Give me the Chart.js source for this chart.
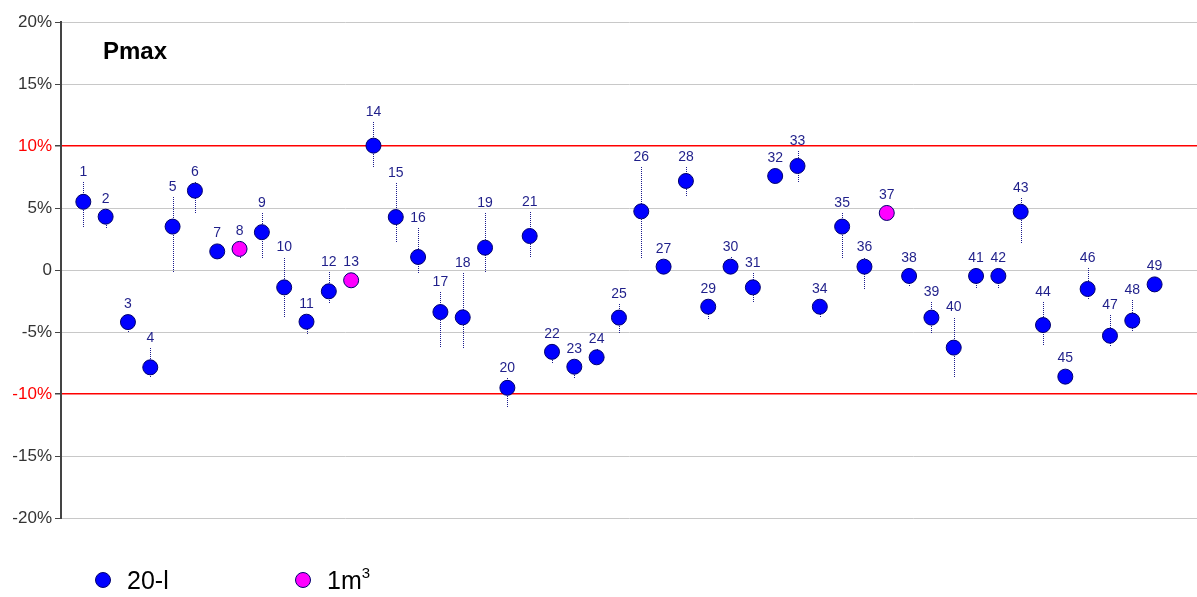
<!DOCTYPE html>
<html>
<head>
<meta charset="utf-8">
<script src="https://cdn.jsdelivr.net/npm/chart.js@4.4.1/dist/chart.umd.min.js"></script>
<style>
  html, body { margin: 0; padding: 0; background: #fff; }
  #wrap { position: relative; width: 1197px; height: 597px; }
  #legend { position: absolute; left: 0; top: 0; width: 1197px; height: 597px; pointer-events: none;
            font-family: "Liberation Sans", Arial, sans-serif; color: #000; }
  .item { position: absolute; top: 566px; font-size: 25px; line-height: 28px; white-space: nowrap; }
  .dot { position: absolute; width: 16px; height: 16px; border-radius: 50%; box-sizing: border-box;
         border: 1px solid #00006e; top: 6px; }
  .item span.t { position: absolute; top: 0; }
  sup { font-size: 15px; vertical-align: 0; position: relative; top: -11px; }
</style>
</head>
<body>
<div id="wrap">
  <canvas id="c" width="1197" height="597"></canvas>
  <div id="legend"></div>
</div>
<script>
// ---- data ----
const sampleLabels = ["1","2","3","4","5","6","7","8","9","10","11","12","13","14","15","16","17","18","19","20",
  "21","22","23","24","25","26","27","28","29","30","31","32","33","34","35","36","37","38","39","40",
  "41","42","43","44","45","46","47","48","49"];
const sampleIndex = [1,2,3,4,5,6,7,8,9,10,11,12,13,14,15,16,17,18,19,20,21,22,23,24,25,26,27,28,29,30,
  31,32,33,34,35,36,37,38,39,40,41,42,43,44,45,46,47,48,49];
const deviation = [5.5,4.3,-4.2,-7.85,3.5,6.4,1.5,1.7,3.05,-1.4,-4.17,-1.72,-0.83,10.03,4.27,1.05,-3.39,-3.82,1.8,-9.5,
  2.74,-6.6,-7.8,-7.04,-3.84,4.73,0.27,7.18,-2.96,0.27,-1.4,7.58,8.39,-2.96,3.5,0.27,4.6,-0.48,-3.84,-6.26,
  -0.48,-0.48,4.7,-4.44,-8.6,-1.53,-5.3,-4.08,-1.16];
const upperBound = [7.1,4.9,-3.6,-6.3,5.9,7.1,2.0,2.3,4.6,1.0,-3.6,-0.2,-0.3,11.96,7.04,3.36,-1.77,-0.27,4.57,-8.7,
  4.7,-6.0,-7.3,-6.4,-2.74,8.33,0.8,8.28,-2.4,1.02,-0.27,8.1,9.62,-2.4,4.57,1.0,5.1,0.05,-2.6,-3.84,
  0.05,0.05,5.78,-2.6,-8.1,0.19,-3.63,-2.42,-0.6];
const lowerBound = [3.47,3.4,-5.05,-8.6,-0.2,4.6,1.0,1.0,1.0,-3.8,-5.16,-2.7,-1.3,8.28,2.23,-0.27,-6.3,-6.4,-0.2,-11.07,
  1.02,-7.6,-8.73,-7.5,-5.05,0.94,-0.2,5.9,-3.98,-0.2,-2.63,7.1,7.04,-3.8,0.94,-1.53,4.1,-1.4,-5.16,-8.6,
  -1.48,-1.53,2.15,-6.05,-9.1,-2.37,-6.18,-4.92,-1.6];
const vessel = ["20-l","20-l","20-l","20-l","20-l","20-l","20-l","1m3","20-l","20-l","20-l","20-l","1m3","20-l","20-l",
  "20-l","20-l","20-l","20-l","20-l","20-l","20-l","20-l","20-l","20-l","20-l","20-l","20-l","20-l","20-l",
  "20-l","20-l","20-l","20-l","20-l","20-l","1m3","20-l","20-l","20-l","20-l","20-l","20-l","20-l","20-l",
  "20-l","20-l","20-l","20-l"];
const yTicks = [-20,-15,-10,-5,0,5,10,15,20];
const limitLines = [-10, 10];
const seriesNames = ["20-l", "1m3"];
const seriesLegendHtml = ["20-l", "1m<sup>3</sup>"];
const seriesColors = ["#0000ff", "#ff00ff"];

// ---- build datasets ----
const points = sampleIndex.map((x, i) => ({x: x, y: deviation[i], lo: lowerBound[i], hi: upperBound[i], label: sampleLabels[i], s: vessel[i]}));
const datasets = seriesNames.map((name, k) => ({
  label: name,
  data: points.filter(p => p.s === name),
  backgroundColor: seriesColors[k],
  borderColor: "#00006e",
  borderWidth: 1,
  pointRadius: 7.5,
  pointHoverRadius: 7.5,
  showLine: false
}));

const errorBars = {
  id: "errorBars",
  beforeDatasetsDraw(chart) {
    const ctx = chart.ctx, ys = chart.scales.y, xs = chart.scales.x;
    ctx.save();
    ctx.strokeStyle = "#1a1a8c";
    ctx.lineWidth = 1;
    ctx.setLineDash([1, 1]);
    points.forEach(p => {
      const px = Math.round(xs.getPixelForValue(p.x)) + 0.5;
      ctx.beginPath();
      ctx.moveTo(px, Math.round(ys.getPixelForValue(p.hi)));
      ctx.lineTo(px, Math.round(ys.getPixelForValue(p.lo)));
      ctx.stroke();
    });
    ctx.restore();
  }
};

const pointLabels = {
  id: "pointLabels",
  afterDatasetsDraw(chart) {
    const ctx = chart.ctx, ys = chart.scales.y, xs = chart.scales.x;
    ctx.save();
    ctx.fillStyle = "#1f1f8a";
    ctx.font = "14px 'Liberation Sans', Arial, sans-serif";
    ctx.textAlign = "center";
    ctx.textBaseline = "middle";
    points.forEach(p => {
      const px = xs.getPixelForValue(p.x);
      const py = Math.min(ys.getPixelForValue(p.hi) - 10, ys.getPixelForValue(p.y) - 18);
      ctx.fillText(p.label, px, py);
    });
    ctx.fillStyle = "#000";
    ctx.font = "bold 24px 'Liberation Sans', Arial, sans-serif";
    ctx.textAlign = "left";
    ctx.fillText("Pmax", 103, 52);
    ctx.restore();
  }
};

new Chart(document.getElementById("c"), {
  type: "scatter",
  data: { datasets: datasets },
  options: {
    responsive: false,
    animation: false,
    layout: { autoPadding: false, padding: { left: 0, right: 0, top: 22, bottom: 79 } },
    plugins: { legend: { display: false }, tooltip: { enabled: false } },
    scales: {
      x: { type: "linear", display: false, min: 0, max: 50.9 },
      y: {
        type: "linear", min: -20, max: 20,
        afterFit(scale) { scale.width = 61; },
        afterBuildTicks(scale) { scale.ticks = yTicks.map(v => ({ value: v })); },
        ticks: {
          padding: 3,
          color: ctx => limitLines.includes(ctx.tick.value) ? "#ff0000" : "#333",
          font: { family: "'Liberation Sans', Arial, sans-serif", size: 17 },
          callback: v => v === 0 ? "0" : v + "%"
        },
        grid: {
          color: ctx => limitLines.includes(ctx.tick && ctx.tick.value) ? "#ff0000" : "#c8c8c8",
          lineWidth: ctx => limitLines.includes(ctx.tick && ctx.tick.value) ? 1.5 : 1,
          tickColor: "#444",
          tickLength: 6,
          drawTicks: true
        },
        border: { display: true, color: "#444", width: 2 }
      }
    }
  },
  plugins: [errorBars, pointLabels]
});

// HTML legend
const lg = document.getElementById("legend");
const legendX = [95, 295];
seriesNames.forEach((n, k) => {
  const d = document.createElement("div");
  d.className = "item";
  d.style.left = legendX[k] + "px";
  d.innerHTML = '<div class="dot" style="left:0;background:' + seriesColors[k] + '"></div><span class="t" style="left:32px">' + seriesLegendHtml[k] + '</span>';
  lg.appendChild(d);
});
</script>
</body>
</html>
